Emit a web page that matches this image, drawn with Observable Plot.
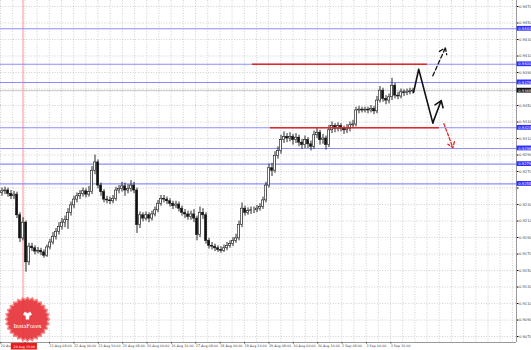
<!DOCTYPE html>
<html>
<head>
<meta charset="utf-8">
<script src="https://cdn.jsdelivr.net/npm/d3@7"></script>
<script src="https://cdn.jsdelivr.net/npm/@observablehq/plot@0.6"></script>
<style>
  html, body { margin: 0; padding: 0; background: #fff; }
  #chart svg { display: block; }
</style>
</head>
<body>
<div id="chart"></div>
<script>
// ---- data (2-hour candles) ----
const firstOpen = 0.9244;
const close = [
  0.9246,0.9247,0.9243,0.9240,0.9242,0.9217,0.9189,0.9208,0.9160,0.9179,
  0.9177,0.9173,0.9174,0.9172,0.9168,0.9178,0.9184,0.9191,0.9197,0.9203,
  0.9208,0.9211,0.9220,0.9229,0.9236,0.9240,0.9243,0.9246,0.9242,0.9245,
  0.9271,0.9281,0.9253,0.9245,0.9236,0.9235,0.9234,0.9237,0.9247,0.9249,
  0.9252,0.9247,0.9249,0.9253,0.9247,0.9205,0.9217,0.9213,0.9217,0.9213,
  0.9218,0.9223,0.9231,0.9237,0.9236,0.9234,0.9231,0.9228,0.9230,0.9225,
  0.9220,0.9218,0.9215,0.9218,0.9213,0.9193,0.9220,0.9217,0.9186,0.9180,
  0.9179,0.9177,0.9175,0.9174,0.9177,0.9180,0.9182,0.9186,0.9189,0.9205,
  0.9225,0.9220,0.9222,0.9223,0.9223,0.9225,0.9227,0.9235,0.9253,0.9274,
  0.9271,0.9289,0.9295,0.9308,0.9312,0.9310,0.9312,0.9308,0.9311,0.9305,
  0.9302,0.9308,0.9303,0.9300,0.9314,0.9317,0.9308,0.9310,0.9302,0.9320,
  0.9325,0.9322,0.9325,0.9322,0.9320,0.9322,0.9326,0.9327,0.9344,0.9345,
  0.9344,0.9345,0.9344,0.9346,0.9343,0.9356,0.9368,0.9358,0.9356,0.9360,
  0.9374,0.9362,0.9361,0.9366,0.9365,0.9366,0.9367,0.9368
];
const high = [
  0.9250,0.9251,0.9250,0.9247,0.9246,0.9245,0.9220,0.9214,0.9210,0.9183,
  0.9183,0.9180,0.9178,0.9177,0.9175,0.9181,0.9188,0.9196,0.9201,0.9208,
  0.9213,0.9216,0.9225,0.9233,0.9240,0.9244,0.9247,0.9250,0.9249,0.9252,
  0.9276,0.9290,0.9284,0.9256,0.9248,0.9240,0.9239,0.9241,0.9251,0.9253,
  0.9257,0.9256,0.9254,0.9259,0.9257,0.9250,0.9221,0.9220,0.9221,0.9220,
  0.9222,0.9227,0.9235,0.9241,0.9241,0.9239,0.9237,0.9234,0.9234,0.9233,
  0.9228,0.9224,0.9222,0.9222,0.9224,0.9216,0.9227,0.9225,0.9220,0.9189,
  0.9184,0.9182,0.9180,0.9179,0.9181,0.9184,0.9186,0.9190,0.9194,0.9210,
  0.9232,0.9228,0.9226,0.9227,0.9227,0.9229,0.9231,0.9239,0.9257,0.9279,
  0.9280,0.9294,0.9300,0.9314,0.9318,0.9316,0.9317,0.9315,0.9316,0.9314,
  0.9309,0.9313,0.9311,0.9307,0.9319,0.9322,0.9320,0.9315,0.9313,0.9326,
  0.9330,0.9328,0.9329,0.9328,0.9325,0.9327,0.9330,0.9332,0.9348,0.9349,
  0.9348,0.9348,0.9348,0.9350,0.9349,0.9361,0.9373,0.9371,0.9362,0.9364,
  0.9383,0.9377,0.9366,0.9370,0.9369,0.9370,0.9371,0.9371
];
const low = [
  0.9240,0.9242,0.9239,0.9236,0.9236,0.9213,0.9184,0.9186,0.9148,0.9156,
  0.9173,0.9169,0.9170,0.9168,0.9165,0.9166,0.9175,0.9181,0.9187,0.9193,
  0.9199,0.9202,0.9200,0.9216,0.9225,0.9232,0.9236,0.9239,0.9238,0.9239,
  0.9242,0.9266,0.9249,0.9240,0.9232,0.9231,0.9230,0.9231,0.9234,0.9243,
  0.9245,0.9240,0.9243,0.9245,0.9243,0.9195,0.9201,0.9209,0.9210,0.9208,
  0.9210,0.9215,0.9220,0.9228,0.9232,0.9230,0.9227,0.9224,0.9225,0.9221,
  0.9216,0.9213,0.9211,0.9211,0.9208,0.9186,0.9190,0.9212,0.9182,0.9176,
  0.9175,0.9173,0.9172,0.9171,0.9172,0.9174,0.9177,0.9179,0.9183,0.9186,
  0.9202,0.9216,0.9217,0.9218,0.9219,0.9220,0.9222,0.9224,0.9232,0.9250,
  0.9264,0.9268,0.9285,0.9291,0.9304,0.9305,0.9306,0.9302,0.9304,0.9300,
  0.9297,0.9298,0.9298,0.9295,0.9297,0.9310,0.9302,0.9303,0.9296,0.9299,
  0.9316,0.9317,0.9318,0.9318,0.9315,0.9316,0.9318,0.9322,0.9324,0.9340,
  0.9341,0.9341,0.9340,0.9341,0.9339,0.9340,0.9353,0.9354,0.9351,0.9352,
  0.9356,0.9358,0.9357,0.9358,0.9361,0.9362,0.9363,0.9364
];

// horizontal levels (blue), current price, price ticks
const levels = [0.9443, 0.9400, 0.9378, 0.9323, 0.9298, 0.9279, 0.9255];
const currentPrice = 0.9368;
const priceTicks = [0.9470,0.9450,0.9430,0.9410,0.9390,0.9370,0.9350,0.9330,0.9310,0.9290,
  0.9270,0.9250,0.9230,0.9210,0.9190,0.9170,0.9150,0.9130,0.9110,0.9090,0.9070];

// time axis labels ("" = covered by the crosshair time box)
const timeLabels = ["20 Aug","","21 Aug 08:00","22 Aug 00:00","22 Aug 16:00",
  "23 Aug 08:00","26 Aug 00:00","26 Aug 16:00","27 Aug 08:00","28 Aug 00:00","28 Aug 16:00",
  "29 Aug 08:00","30 Aug 00:00","30 Aug 16:00","2 Sep 08:00","3 Sep 00:00","3 Sep 16:00"];
const markerBar = 7;               // red vertical line (crosshair)
const markerLabel = "20 Aug 15:00";

// analyst drawing: red resistance / support lines
const redLines = [
  {price: 0.9400, from: 83.5, to: 141.8},
  {price: 0.9323, from: 89.5, to: 145.8}
];
// solid projected path, then arrows
const pathPts = [{b:137.2, p:0.9366},{b:138.9, p:0.9394},{b:143.6, p:0.9329}];
const solidArrow = {b1:143.6, p1:0.9329, b2:146.4, p2:0.9356};
const dashArrowUp = {b1:143.6, p1:0.9386, b2:147.8, p2:0.9420};
const dashArrowDown = {b1:147.3, p1:0.9328, b2:150.3, p2:0.9299};

// ---- build ----
const bars = close.map((c, i) => ({i, o: i ? close[i-1] : firstOpen, c, h: high[i], l: low[i]}));
const xMin = -0.5, xMax = 171.5;            // bar units
const yMin = 0.90628, yMax = 0.94773;
const pxY = (yMax - yMin) / 342;            // price per pixel
const labelStep = 8.125;                    // bars between time labels
const timeTicks = timeLabels.map((d, k) => k * labelStep - 0.5);
const gridX = d3.range(0, 43).map(k => k * labelStep / 2 - 0.5).filter(v => v < xMax);
const labelOf = new Map(timeTicks.map((v, k) => [v, timeLabels[k]]));
// price labels hidden behind the value boxes (as in the terminal)
const boxed = levels.concat([currentPrice]);
const priceLabels = priceTicks.filter(t => boxed.every(b => Math.abs(t - b) / pxY > 5));

const starburst = {
  draw(ctx, size) {
    const R = Math.sqrt(size / Math.PI), r = R * 0.9, n = 28;
    for (let k = 0; k < 2 * n; k++) {
      const a = Math.PI * k / n, rr = k % 2 ? r : R;
      const x = rr * Math.sin(a), y = -rr * Math.cos(a);
      k ? ctx.lineTo(x, y) : ctx.moveTo(x, y);
    }
    ctx.closePath();
  }
};

const blue = "#8c8cff", boxBlue = "#2f2fff", red = "#e02828";
const fs = 3.7;

const chart = Plot.plot({
  width: 531, height: 350,
  marginLeft: 0, marginRight: 15, marginTop: 0, marginBottom: 8,
  style: {background: "#fff", fontFamily: "DejaVu Sans, sans-serif"},
  x: {domain: [xMin, xMax], axis: null},
  y: {domain: [yMin, yMax], axis: null},
  marks: [
    // dotted grid
    Plot.ruleX(gridX, {stroke: "#c4c4c4", strokeWidth: 0.8, strokeDasharray: "1,1.6"}),
    Plot.ruleY(priceTicks, {stroke: "#c4c4c4", strokeWidth: 0.8, strokeDasharray: "1,1.6"}),
    // crosshair vertical line
    Plot.ruleX([markerBar], {stroke: "#ff8f8f", strokeWidth: 1}),
    // levels
    Plot.ruleY(levels, {stroke: blue, strokeWidth: 1.1}),
    Plot.ruleY([currentPrice], {stroke: "#c8c8c8", strokeWidth: 1}),
    // candles
    Plot.ruleX(bars, {x: "i", y1: "l", y2: "h", stroke: "#111", strokeWidth: 0.9}),
    Plot.rect(bars, {x1: d => d.i - 0.33, x2: d => d.i + 0.33, y1: "o", y2: "c",
      fill: d => d.c >= d.o ? "#fff" : "#111", stroke: "#111", strokeWidth: 0.6}),
    // red horizontal lines
    Plot.ruleY(redLines, {y: "price", x1: "from", x2: "to", stroke: red, strokeWidth: 1.5}),
    // projected path
    Plot.line(pathPts, {x: "b", y: "p", stroke: "#111", strokeWidth: 1.6}),
    Plot.arrow([solidArrow], {x1: "b1", y1: "p1", x2: "b2", y2: "p2", stroke: "#111",
      strokeWidth: 1.6, headLength: 7, headAngle: 70}),
    Plot.arrow([dashArrowUp], {x1: "b1", y1: "p1", x2: "b2", y2: "p2", stroke: "#111",
      strokeWidth: 1.3, strokeDasharray: "4,2.5", headLength: 8, headAngle: 70}),
    Plot.arrow([dashArrowDown], {x1: "b1", y1: "p1", x2: "b2", y2: "p2", stroke: red,
      strokeWidth: 1.3, strokeDasharray: "3,2", headLength: 7, headAngle: 70}),
    // frame lines
    Plot.ruleX([xMax], {stroke: "#9a9a9a", strokeWidth: 1}),
    Plot.ruleY([yMin], {stroke: "#9a9a9a", strokeWidth: 1}),
    // price axis
    Plot.axisY(priceTicks, {anchor: "right", tickSize: 1.5, text: null}),
    Plot.text(priceLabels, {x: xMax, y: d => d, dx: 2.5, text: d => d.toFixed(4), textAnchor: "start",
      fontSize: fs, fill: "#444"}),
    // time axis
    Plot.axisX(timeTicks, {anchor: "bottom", tickSize: 1.5, tickPadding: 0.3, fontSize: 3.3,
      textAnchor: "start", dx: 0.3, tickFormat: d => labelOf.get(d), color: "#444"}),
    // level value boxes
    Plot.rect(levels, {x1: xMax + 0.2, x2: xMax + 5.2, y1: d => d - 2.4 * pxY, y2: d => d + 2.4 * pxY, fill: boxBlue}),
    Plot.text(levels, {x: xMax, y: d => d, dx: 1.8, text: d => d.toFixed(4), fill: "#fff",
      fontSize: fs, textAnchor: "start"}),
    Plot.rect([currentPrice], {x1: xMax + 0.2, x2: xMax + 5.2, y1: d => d - 2.4 * pxY, y2: d => d + 2.4 * pxY, fill: "#111"}),
    Plot.text([currentPrice], {x: xMax, y: d => d, dx: 1.8, text: d => d.toFixed(4), fill: "#fff",
      fontSize: fs, textAnchor: "start"}),
    // crosshair time box
    Plot.rect([markerBar], {x1: d => d - 3.9, x2: d => d + 4.8, y1: yMin - 1 * pxY, y2: yMin - 7.5 * pxY, fill: "#f01818"}),
    Plot.text([markerBar], {x: d => d + 0.45, y: yMin - 4.3 * pxY, text: () => markerLabel, fill: "#fff", fontSize: 3.2}),
    // InstaForex badge
    Plot.dot([{b: 8.5, p: 0.9091}], {x: "b", y: "p", r: 22, symbol: starburst, fill: "#e63338",
      fillOpacity: 0.92, stroke: "#f28a8a", strokeWidth: 1.4}),
    Plot.dot([{b: 8.5, p: 0.9091 + 4 * pxY}], {x: "b", y: "p", r: 3.2, symbol: "wye", fill: "#fff", stroke: "#fff", strokeWidth: 0.5}),
    Plot.text([{b: 8.5, p: 0.9091 - 7 * pxY, t: "InstaForex"}], {x: "b", y: "p", text: "t", fill: "#fff",
      fontSize: 6.6, fontFamily: "Liberation Serif, serif"})
  ]
});
document.getElementById("chart").appendChild(chart);
</script>
</body>
</html>
